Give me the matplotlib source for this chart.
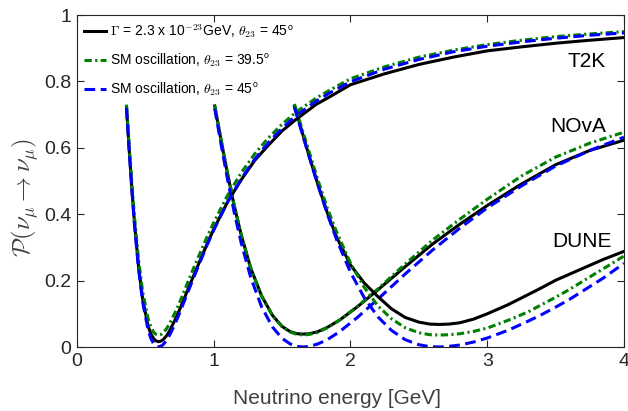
import numpy as np
import matplotlib
matplotlib.use('Agg')
import matplotlib.pyplot as plt

###############################################################################
## data
###############################################################################

# T2K
E_t2k = [0.362, 0.38, 0.40, 0.42, 0.45, 0.48, 0.52, 0.54, 0.56, 0.575, 0.595,
         0.615, 0.63, 0.655, 0.68, 0.715, 0.75, 0.85, 0.95, 1.0, 1.1, 1.2,
         1.3, 1.4, 1.5, 1.6, 1.75, 1.85, 2.0, 2.25, 2.5, 2.75, 3.0, 3.25,
         3.5, 3.75, 4.0]
P_t2k_sm45 = [0.720, 0.603, 0.481, 0.371, 0.236, 0.136, 0.051, 0.026, 0.010,
              0.003, 0.000, 0.003, 0.007, 0.020, 0.038, 0.068, 0.102, 0.206,
              0.306, 0.352, 0.436, 0.506, 0.566, 0.616, 0.659, 0.696, 0.741,
              0.766, 0.799, 0.837, 0.866, 0.889, 0.906, 0.919, 0.930, 0.939,
              0.946]
P_t2k_sm395 = [0.730, 0.617, 0.500, 0.394, 0.264, 0.167, 0.085, 0.061, 0.045,
               0.039, 0.036, 0.038, 0.043, 0.055, 0.073, 0.102, 0.134, 0.235,
               0.331, 0.375, 0.456, 0.524, 0.582, 0.630, 0.671, 0.707, 0.750,
               0.774, 0.808, 0.844, 0.873, 0.894, 0.911, 0.924, 0.935, 0.943,
               0.950]
P_t2k_decay = [0.722, 0.605, 0.484, 0.375, 0.242, 0.145, 0.063, 0.040, 0.026,
               0.019, 0.016, 0.018, 0.022, 0.034, 0.051, 0.080, 0.112, 0.212,
               0.309, 0.355, 0.436, 0.503, 0.562, 0.608, 0.651, 0.685, 0.731,
               0.754, 0.790, 0.823, 0.851, 0.873, 0.892, 0.904, 0.915, 0.924,
               0.932]

# NOvA
E_nova = [1.007, 1.03, 1.06, 1.1, 1.15, 1.2, 1.27, 1.35, 1.43, 1.5, 1.56,
          1.61, 1.655, 1.70, 1.76, 1.83, 1.92, 2.05, 2.2, 2.4, 2.6, 2.8, 3.0,
          3.25, 3.5, 3.75, 4.0]
P_nova_sm45 = [0.718, 0.665, 0.596, 0.507, 0.405, 0.315, 0.210, 0.121, 0.060,
               0.026, 0.009, 0.002, 0.000, 0.002, 0.009, 0.022, 0.046, 0.089,
               0.144, 0.220, 0.292, 0.358, 0.419, 0.485, 0.545, 0.592, 0.632]
P_nova_sm395 = [0.728, 0.677, 0.611, 0.525, 0.426, 0.340, 0.238, 0.153, 0.094,
                0.061, 0.045, 0.038, 0.036, 0.038, 0.044, 0.058, 0.081, 0.122,
                0.175, 0.250, 0.322, 0.385, 0.445, 0.515, 0.572, 0.614, 0.647]
P_nova_decay = [0.726, 0.675, 0.609, 0.523, 0.425, 0.339, 0.238, 0.154, 0.095,
                0.062, 0.046, 0.040, 0.039, 0.040, 0.046, 0.059, 0.081, 0.121,
                0.172, 0.242, 0.310, 0.370, 0.426, 0.491, 0.549, 0.592, 0.623]

# DUNE
E_dune = [1.59, 1.62, 1.66, 1.70, 1.76, 1.83, 1.90, 2.0, 2.1, 2.2, 2.3, 2.4,
          2.5, 2.58, 2.65, 2.72, 2.8, 2.9, 3.0, 3.15, 3.3, 3.4, 3.5, 3.6,
          3.75, 3.85, 4.0]
P_dune_sm45 = [0.722, 0.680, 0.625, 0.570, 0.490, 0.401, 0.322, 0.225, 0.149,
               0.091, 0.050, 0.022, 0.007, 0.001, 0.000, 0.002, 0.006, 0.015,
               0.027, 0.050, 0.078, 0.098, 0.120, 0.143, 0.182, 0.208, 0.252]
P_dune_sm395 = [0.732, 0.692, 0.638, 0.585, 0.505, 0.419, 0.345, 0.253, 0.180,
                0.124, 0.085, 0.058, 0.043, 0.037, 0.036, 0.037, 0.040, 0.047,
                0.057, 0.080, 0.106, 0.128, 0.150, 0.173, 0.211, 0.236, 0.274]
P_dune_decay = [0.725, 0.685, 0.628, 0.572, 0.492, 0.405, 0.330, 0.247, 0.193,
                0.152, 0.115, 0.089, 0.075, 0.069, 0.068, 0.069, 0.073, 0.084,
                0.100, 0.127, 0.158, 0.179, 0.201, 0.219, 0.246, 0.264, 0.288]

labels = [r'$\Gamma$ = 2.3 x 10$^{\mathsf{-23}}$GeV, $\theta_{23}$ = 45$^{\mathsf{o}}$',
          r'SM oscillation, $\theta_{23}$ = 39.5$^{\mathsf{o}}$',
          r'SM oscillation, $\theta_{23}$ = 45$^{\mathsf{o}}$']
exp_names = ['T2K', 'NOvA', 'DUNE']
exp_text_pos = [(3.87, 0.861), (3.87, 0.664), (3.91, 0.317)]

###############################################################################
## plot
###############################################################################

plt.rcParams['font.family'] = ['Liberation Sans', 'DejaVu Sans']
plt.rcParams['mathtext.fontset'] = 'cm'

fig = plt.figure(figsize=(6.28, 4.11), dpi=100)
ax = fig.add_axes([0.1226, 0.1557, 0.8710, 0.8078])

green = '#008000'
blue = '#0000ff'
lw = 2.2

curves = [(E_t2k, P_t2k_decay, P_t2k_sm395, P_t2k_sm45),
          (E_nova, P_nova_decay, P_nova_sm395, P_nova_sm45),
          (E_dune, P_dune_decay, P_dune_sm395, P_dune_sm45)]

for i, (E, pd, pg, pb) in enumerate(curves):
    lab = labels if i == 0 else [None, None, None]
    ax.plot(E, pd, color='k', lw=lw, label=lab[0])
    ax.plot(E, pg, color=green, lw=lw, dashes=(2.4, 1.1, 0.7, 1.1),
            label=lab[1])
    ax.plot(E, pb, color=blue, lw=lw, dashes=(3.5, 1.8), label=lab[2])

for name, (x, y) in zip(exp_names, exp_text_pos):
    ax.text(x, y, name, ha='right', va='center', fontsize=15)

ax.set_xlim(0, 4)
ax.set_ylim(0, 1)
ax.set_xticks([0, 1, 2, 3, 4])
ax.set_yticks([0, 0.2, 0.4, 0.6, 0.8, 1])
ax.set_yticklabels(['0', '0.2', '0.4', '0.6', '0.8', '1'])
ax.tick_params(direction='in', length=5, width=0.8, top=True, right=True,
               labelsize=14, colors='#262626', pad=4)
for sp in ax.spines.values():
    sp.set_linewidth(0.8)
    sp.set_color('#262626')

ax.set_xlabel('Neutrino energy [GeV]', fontsize=15, color='#404040')
ax.xaxis.label.set_va('center')
ax.xaxis.set_label_coords(0.475, -0.154)
ax.set_ylabel(r'$\mathcal{P}(\nu_\mu \rightarrow \nu_\mu)$', fontsize=18,
              color='#404040')
ax.yaxis.label.set_va('center')
ax.yaxis.set_label_coords(-0.094, 0.45)

ax.legend(loc='upper left', bbox_to_anchor=(0.0, 1.0), frameon=False,
          fontsize=10, handlelength=1.6, handletextpad=0.3,
          labelspacing=0.85, borderaxespad=0.1)

fig.savefig('out.png', dpi=100)
